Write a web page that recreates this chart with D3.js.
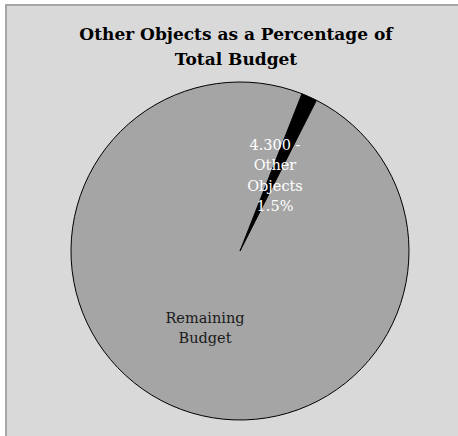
<!DOCTYPE html>
<html>
<head>
<meta charset="utf-8">
<script src="https://cdn.jsdelivr.net/npm/d3@7"></script>
<style>
  html, body { margin: 0; padding: 0; background: #ffffff; }
  svg { display: block; }
</style>
</head>
<body>
<svg id="chart" width="458" height="436"></svg>
<script>
// Budget share data
const categories = ["Other Objects", "Remaining Budget"];
const shares = [1.5, 98.5];
const objectCodes = ["4.300", null];
const sliceColors = ["#000000", "#a5a5a5"];
const titleLines = ["Other Objects as a Percentage of", "Total Budget"];

const W = 458, H = 436;
const cx = 240, cy = 251, R = 169;
const firstSliceAngle = 21.5 * Math.PI / 180;

const svg = d3.select("#chart");

// chart area background with its frame
svg.append("rect")
  .attr("x", 6).attr("y", 5)
  .attr("width", W).attr("height", H)
  .attr("fill", "#d9d9d9")
  .attr("stroke", "#a6a6a6")
  .attr("stroke-width", 2);

// title
const serif = "'DejaVu Serif', serif";
svg.append("text")
  .attr("text-anchor", "middle")
  .attr("font-family", serif)
  .attr("font-weight", "bold")
  .attr("font-size", 17)
  .attr("fill", "#000")
  .selectAll("tspan")
  .data(titleLines)
  .join("tspan")
  .attr("x", 236)
  .attr("y", (d, i) => 39.5 + i * 25)
  .text(d => d);

// pie
const data = categories.map((c, i) => ({ name: c, value: shares[i], code: objectCodes[i], color: sliceColors[i] }));
const pie = d3.pie()
  .sort(null)
  .value(d => d.value)
  .startAngle(firstSliceAngle)
  .endAngle(firstSliceAngle + 2 * Math.PI);
const arcs = pie(data);
const arc = d3.arc().innerRadius(0).outerRadius(R);

const g = svg.append("g").attr("transform", `translate(${cx},${cy})`);

g.selectAll("path.slice")
  .data(arcs)
  .join("path")
  .attr("class", "slice")
  .attr("d", arc)
  .attr("fill", d => d.data.color)
  .attr("stroke", "#000")
  .attr("stroke-width", 1);

// data labels
const pct = d3.format(".1f");
const otherLines = d => [d.data.code + " -", "Other", "Objects", pct(d.data.value) + "%"];
g.append("text")
  .attr("text-anchor", "middle")
  .attr("font-family", serif)
  .attr("font-size", 14.5)
  .attr("fill", "#ffffff")
  .selectAll("tspan")
  .data(otherLines(arcs[0]))
  .join("tspan")
  .attr("x", 275 - cx)
  .attr("y", (d, i) => 150 - cy + i * 20.3)
  .text(d => d);

g.append("text")
  .attr("text-anchor", "middle")
  .attr("font-family", serif)
  .attr("font-size", 14.5)
  .attr("fill", "#1a1a1a")
  .selectAll("tspan")
  .data(arcs[1].data.name.split(" "))
  .join("tspan")
  .attr("x", 205 - cx)
  .attr("y", (d, i) => 323 - cy + i * 20)
  .text(d => d);
</script>
</body>
</html>
